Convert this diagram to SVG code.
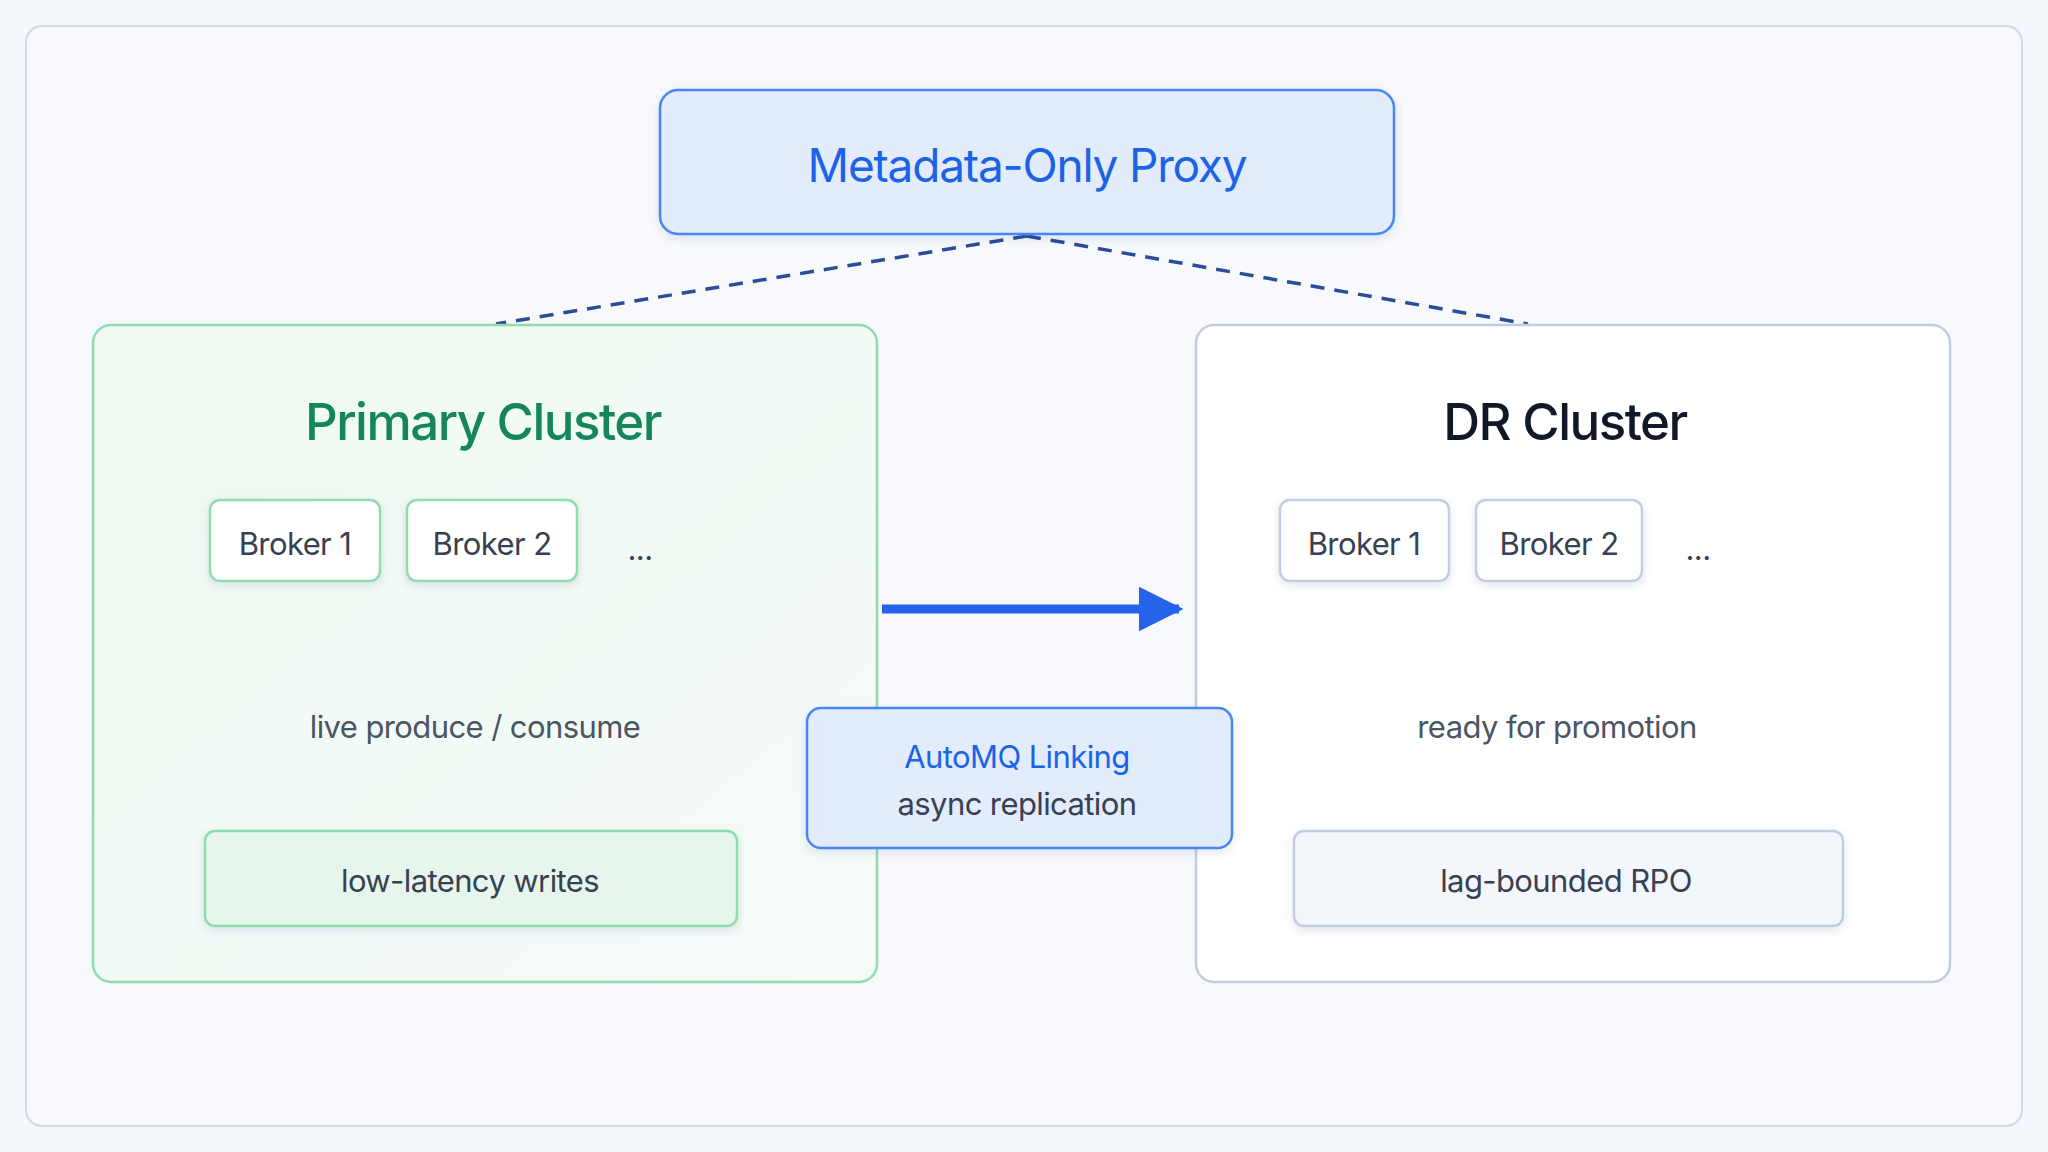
<svg xmlns="http://www.w3.org/2000/svg" width="2048" height="1152" viewBox="0 0 2048 1152">
<defs>
<linearGradient id="gp" x1="0" y1="0" x2="1" y2="1"><stop offset="0" stop-color="#eefaf2"/><stop offset="1" stop-color="#f6fbf8"/></linearGradient>
<filter id="sh" x="-10%" y="-10%" width="120%" height="130%"><feDropShadow dx="0" dy="3" stdDeviation="4" flood-color="#1e3a8a" flood-opacity="0.12"/></filter>
<marker id="ah" viewBox="0 0 10 10" refX="9" refY="5" markerWidth="5" markerHeight="5" orient="auto" markerUnits="strokeWidth"><path d="M0,0 L10,5 L0,10 z" fill="#2563eb"/></marker>
</defs>
<style>
text{font-family:Inter,"Noto Sans","Liberation Sans",sans-serif;text-anchor:middle;dominant-baseline:central;letter-spacing:-0.6px}
.broker{fill:#fff;stroke-width:2.5;filter:url(#sh)}
.bt{font-size:31px;fill:#374151}
.sub{font-size:31px;fill:#4b5563}
.title{font-size:51px;font-weight:500;letter-spacing:-1.5px}
.dash{stroke:#2b4c9a;stroke-width:3.5;stroke-dasharray:14 10;fill:none}
</style>
<rect x="0" y="0" width="2048" height="1152" fill="#f5f8fc"/>
<rect x="26" y="26" width="1996" height="1100" rx="16" fill="#f7f9fd" stroke="#cfd9e8" stroke-width="2"/>
<g id="connectors">
<path class="dash" d="M1027,236 L496,324"/>
<path class="dash" d="M1027,236 L1528,324"/>
<line x1="882" y1="609" x2="1179" y2="609" stroke="#2563eb" stroke-width="9" marker-end="url(#ah)"/>
</g>
<g id="proxy">
<rect x="660" y="90" width="734" height="144" rx="18" fill="#e2ecfc" stroke="#4a86ef" stroke-width="2.5" filter="url(#sh)"/>
<text x="1027" y="165" font-size="46" fill="#1d63e6" style="letter-spacing:-1.2px">Metadata-Only Proxy</text>
</g>
<g id="primary">
<rect x="93" y="325" width="784" height="657" rx="18" fill="url(#gp)" stroke="#8fdcae" stroke-width="2.5"/>
<text class="title" x="483" y="421" fill="#14865a">Primary Cluster</text>
<rect class="broker" x="210" y="500" width="170" height="81" rx="10" stroke="#8fdcae"/>
<text class="bt" x="295" y="543">Broker 1</text>
<rect class="broker" x="407" y="500" width="170" height="81" rx="10" stroke="#8fdcae"/>
<text class="bt" x="492" y="543">Broker 2</text>
<text class="bt" x="640" y="548">...</text>
<text class="sub" x="475" y="726">live produce / consume</text>
<rect x="205" y="831" width="532" height="95" rx="10" fill="#e6f6ec" stroke="#8fdcae" stroke-width="2.5" filter="url(#sh)"/>
<text class="bt" x="470" y="880">low-latency writes</text>
</g>
<g id="dr">
<rect x="1196" y="325" width="754" height="657" rx="18" fill="#ffffff" stroke="#c3cde0" stroke-width="2.5"/>
<text class="title" x="1565" y="421" fill="#111827">DR Cluster</text>
<rect class="broker" x="1280" y="500" width="169" height="81" rx="10" stroke="#c3cde0"/>
<text class="bt" x="1364" y="543">Broker 1</text>
<rect class="broker" x="1476" y="500" width="166" height="81" rx="10" stroke="#c3cde0"/>
<text class="bt" x="1559" y="543">Broker 2</text>
<text class="bt" x="1698" y="548">...</text>
<text class="sub" x="1557" y="726">ready for promotion</text>
<rect x="1294" y="831" width="549" height="95" rx="10" fill="#f3f6fb" stroke="#c3cde0" stroke-width="2.5" filter="url(#sh)"/>
<text class="bt" x="1566" y="880">lag-bounded RPO</text>
</g>
<g id="linking">
<rect x="807" y="708" width="425" height="140" rx="14" fill="#e2ecfc" stroke="#4a86ef" stroke-width="2.5" filter="url(#sh)"/>
<text x="1017" y="756" font-size="31" fill="#1d63e6">AutoMQ Linking</text>
<text x="1017" y="803" font-size="31" fill="#374151">async replication</text>
</g>
</svg>
